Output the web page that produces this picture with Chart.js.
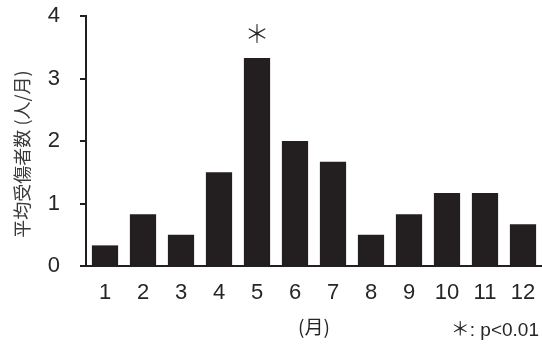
<!DOCTYPE html>
<html lang="ja">
<head>
<meta charset="utf-8">
<title>月別 平均受傷者数</title>
<script src="https://cdn.jsdelivr.net/npm/chart.js@4/dist/chart.umd.min.js"></script>
<style>
  html, body { margin: 0; padding: 0; background: #fff; overflow: hidden; }
  #wrap { width: 542px; height: 345px; }
</style>
</head>
<body>
<div id="wrap"><canvas id="chart" width="542" height="345"></canvas></div>
<script>
// Months (x categories)
const months = ['1', '2', '3', '4', '5', '6', '7', '8', '9', '10', '11', '12'];
// Average number of injured people per month
const injured = [0.33, 0.83, 0.5, 1.5, 3.33, 2.0, 1.67, 0.5, 0.83, 1.17, 1.17, 0.67];
// Significance marks placed above bars
const sigMarks = ['', '', '', '', '＊', '', '', '', '', '', '', ''];
// Y axis ticks
const yTicks = [0, 1, 2, 3, 4];

const yTitle = '平均受傷者数 (人/月)';
const xTitle = '(月)';
const note = '＊: p<0.01';

const ink = '#231f20';
const textColor = '#262626';
const latinFont = '"Liberation Sans", Arial, "Noto Sans CJK JP", sans-serif';
const cjkFont = '"Noto Sans CJK JP", "Liberation Sans", sans-serif';

// Draws significance marks above bars, the rotated y title and the footnote
const annotations = {
  id: 'annotations',
  afterDatasetsDraw(chart) {
    const ctx = chart.ctx;
    const meta = chart.getDatasetMeta(0);
    ctx.save();
    ctx.fillStyle = '#222';
    ctx.textAlign = 'center';
    ctx.textBaseline = 'middle';
    ctx.font = '300 25px ' + cjkFont;
    meta.data.forEach((bar, i) => {
      if (sigMarks[i]) ctx.fillText(sigMarks[i], bar.x, bar.y - 24);
    });
    ctx.restore();
  },
  afterDraw(chart) {
    const ctx = chart.ctx;
    ctx.save();
    // y axis title
    ctx.translate(22, 154);
    ctx.rotate(-Math.PI / 2);
    ctx.fillStyle = '#3a3a3a';
    ctx.textAlign = 'center';
    ctx.textBaseline = 'middle';
    ctx.font = '18px ' + cjkFont;
    ctx.fillText(yTitle, 0, 0);
    ctx.restore();

    ctx.save();
    ctx.fillStyle = textColor;
    ctx.textAlign = 'right';
    ctx.textBaseline = 'middle';
    ctx.font = '19px ' + latinFont;
    ctx.fillText(note, 539, 331);
    ctx.restore();
  }
};

new Chart(document.getElementById('chart'), {
  type: 'bar',
  data: {
    labels: months,
    datasets: [{
      data: injured,
      backgroundColor: ink,
      borderWidth: 0,
      barPercentage: 0.69,
      categoryPercentage: 1.0
    }]
  },
  options: {
    responsive: false,
    animation: false,
    devicePixelRatio: 1,
    layout: { padding: { top: 16, right: 0, bottom: 0, left: 0 } },
    plugins: {
      legend: { display: false },
      tooltip: { enabled: false },
      title: { display: false }
    },
    scales: {
      x: {
        grid: { display: true, drawOnChartArea: false, drawTicks: false },
        border: { display: true, color: ink, width: 2 },
        ticks: {
          color: textColor,
          font: { family: latinFont, size: 22 },
          padding: 14,
          maxRotation: 0,
          autoSkip: false
        },
        title: {
          display: true,
          text: xTitle,
          color: textColor,
          font: { family: cjkFont, size: 19 },
          padding: { top: 0, bottom: 7 }
        },
        afterFit(scale) {
          scale.height = 79;
          scale.paddingLeft = 0;
          scale.paddingRight = 0;
        }
      },
      y: {
        min: 0,
        max: 4,
        afterBuildTicks(scale) { scale.ticks = yTicks.map(v => ({ value: v })); },
        grid: {
          display: true,
          drawOnChartArea: false,
          drawTicks: true,
          tickLength: 6,
          color: ink,
          lineWidth: 2
        },
        border: { display: true, color: ink, width: 2 },
        ticks: {
          color: textColor,
          font: { family: latinFont, size: 22 },
          padding: 20
        },
        afterFit(scale) {
          scale.width = 86;
          scale.paddingTop = 0;
          scale.paddingBottom = 0;
        }
      }
    }
  },
  plugins: [annotations]
});
</script>
</body>
</html>
